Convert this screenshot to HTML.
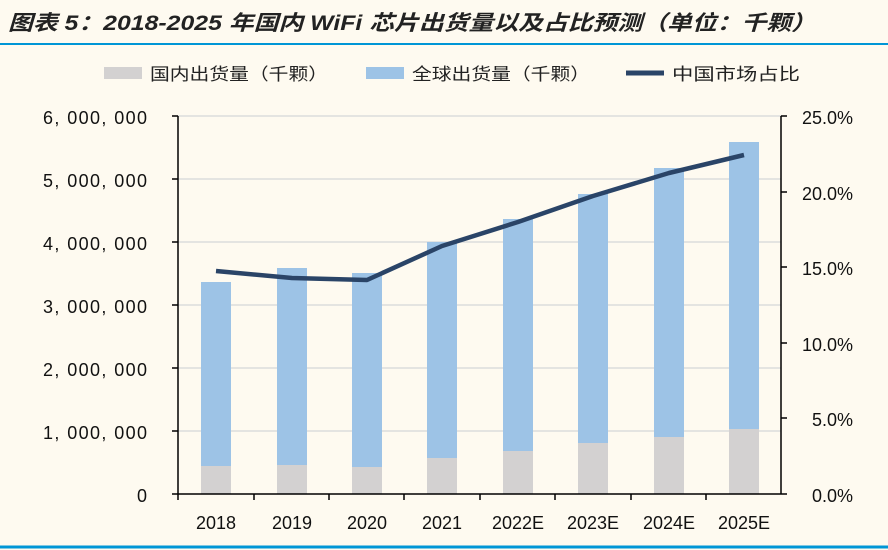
<!DOCTYPE html>
<html><head><meta charset="utf-8"><style>
body{margin:0;background:#fefaf0;}
svg{display:block;font-family:"Liberation Sans","Noto Sans CJK SC",sans-serif;}
</style></head><body>
<svg width="888" height="550" viewBox="0 0 888 550">
<rect width="888" height="550" fill="#fefaf0"/>
<text x="8" y="30" font-size="21" font-weight="bold" font-style="italic" fill="#222" textLength="808" lengthAdjust="spacingAndGlyphs">图表 5：2018-2025 年国内 WiFi 芯片出货量以及占比预测（单位：千颗）</text>
<line x1="0" y1="44" x2="888" y2="44" stroke="#0096d6" stroke-width="2"/>
<line x1="0" y1="547" x2="888" y2="547" stroke="#0096d6" stroke-width="3"/>
<!-- legend -->
<rect x="104" y="67" width="38" height="12" fill="#d3d1d1"/>
<text x="150" y="80" font-size="17" fill="#222" textLength="178" lengthAdjust="spacingAndGlyphs">国内出货量（千颗）</text>
<rect x="366" y="67" width="38" height="12" fill="#9dc3e6"/>
<text x="412" y="80" font-size="17" fill="#222" textLength="178" lengthAdjust="spacingAndGlyphs">全球出货量（千颗）</text>
<line x1="626" y1="73" x2="664" y2="73" stroke="#2a4467" stroke-width="5"/>
<text x="672" y="80" font-size="17" fill="#222" textLength="128" lengthAdjust="spacingAndGlyphs">中国市场占比</text>
<!-- grid -->
<g stroke="#dcdcdc" stroke-width="1.5">
<line x1="178" y1="116" x2="781" y2="116"/><line x1="178" y1="179" x2="781" y2="179"/>
<line x1="178" y1="242" x2="781" y2="242"/><line x1="178" y1="305" x2="781" y2="305"/>
<line x1="178" y1="368" x2="781" y2="368"/><line x1="178" y1="431" x2="781" y2="431"/>
</g>
<!-- bars -->
<g fill="#9dc3e6">
<rect x="201" y="282" width="30" height="212"/><rect x="277" y="268" width="30" height="226"/>
<rect x="352" y="273" width="30" height="221"/><rect x="427" y="242" width="30" height="252"/>
<rect x="503" y="219" width="30" height="275"/><rect x="578" y="194" width="30" height="300"/>
<rect x="654" y="168" width="30" height="326"/><rect x="729" y="142" width="30" height="352"/>
</g>
<g fill="#d3d1d1">
<rect x="201" y="466" width="30" height="28"/><rect x="277" y="465" width="30" height="29"/>
<rect x="352" y="467" width="30" height="27"/><rect x="427" y="458" width="30" height="36"/>
<rect x="503" y="451" width="30" height="43"/><rect x="578" y="443" width="30" height="51"/>
<rect x="654" y="437" width="30" height="57"/><rect x="729" y="429" width="30" height="65"/>
</g>
<polyline points="216,271 292,278 367,280 442,246 518,222 593,196 669,173 744,155" fill="none" stroke="#2a4467" stroke-width="4.5" stroke-linejoin="round"/>
<!-- axes -->
<g stroke="#000" stroke-width="1.5">
<line x1="178" y1="116" x2="178" y2="494"/><line x1="781" y1="116" x2="781" y2="494"/>
<line x1="172" y1="494" x2="787" y2="494"/>
<line x1="172" y1="116" x2="178" y2="116"/><line x1="172" y1="179" x2="178" y2="179"/><line x1="172" y1="242" x2="178" y2="242"/>
<line x1="172" y1="305" x2="178" y2="305"/><line x1="172" y1="368" x2="178" y2="368"/><line x1="172" y1="431" x2="178" y2="431"/>
<line x1="781" y1="116" x2="787" y2="116"/><line x1="781" y1="192" x2="787" y2="192"/><line x1="781" y1="267" x2="787" y2="267"/>
<line x1="781" y1="343" x2="787" y2="343"/><line x1="781" y1="418" x2="787" y2="418"/>
<line x1="254" y1="494" x2="254" y2="500"/><line x1="329" y1="494" x2="329" y2="500"/><line x1="404" y1="494" x2="404" y2="500"/>
<line x1="480" y1="494" x2="480" y2="500"/><line x1="555" y1="494" x2="555" y2="500"/><line x1="631" y1="494" x2="631" y2="500"/>
<line x1="706" y1="494" x2="706" y2="500"/><line x1="178" y1="494" x2="178" y2="500"/>
</g>
<g font-size="18" fill="#111" text-anchor="end">
<text x="147" y="124" textLength="104" lengthAdjust="spacing">6, 000, 000</text><text x="147" y="187" textLength="104" lengthAdjust="spacing">5, 000, 000</text><text x="147" y="250" textLength="104" lengthAdjust="spacing">4, 000, 000</text>
<text x="147" y="313" textLength="104" lengthAdjust="spacing">3, 000, 000</text><text x="147" y="376" textLength="104" lengthAdjust="spacing">2, 000, 000</text><text x="147" y="439" textLength="104" lengthAdjust="spacing">1, 000, 000</text>
<text x="147" y="502">0</text>
</g>
<g font-size="18" fill="#111">
<text x="802" y="124">25.0%</text><text x="802" y="200">20.0%</text><text x="802" y="275">15.0%</text>
<text x="802" y="351">10.0%</text><text x="812" y="426">5.0%</text><text x="812" y="502">0.0%</text>
</g>
<g font-size="18" fill="#111" text-anchor="middle">
<text x="216" y="529">2018</text><text x="292" y="529">2019</text><text x="367" y="529">2020</text><text x="442" y="529">2021</text>
<text x="518" y="529">2022E</text><text x="593" y="529">2023E</text><text x="669" y="529">2024E</text><text x="744" y="529">2025E</text>
</g>
</svg>
</body></html>
